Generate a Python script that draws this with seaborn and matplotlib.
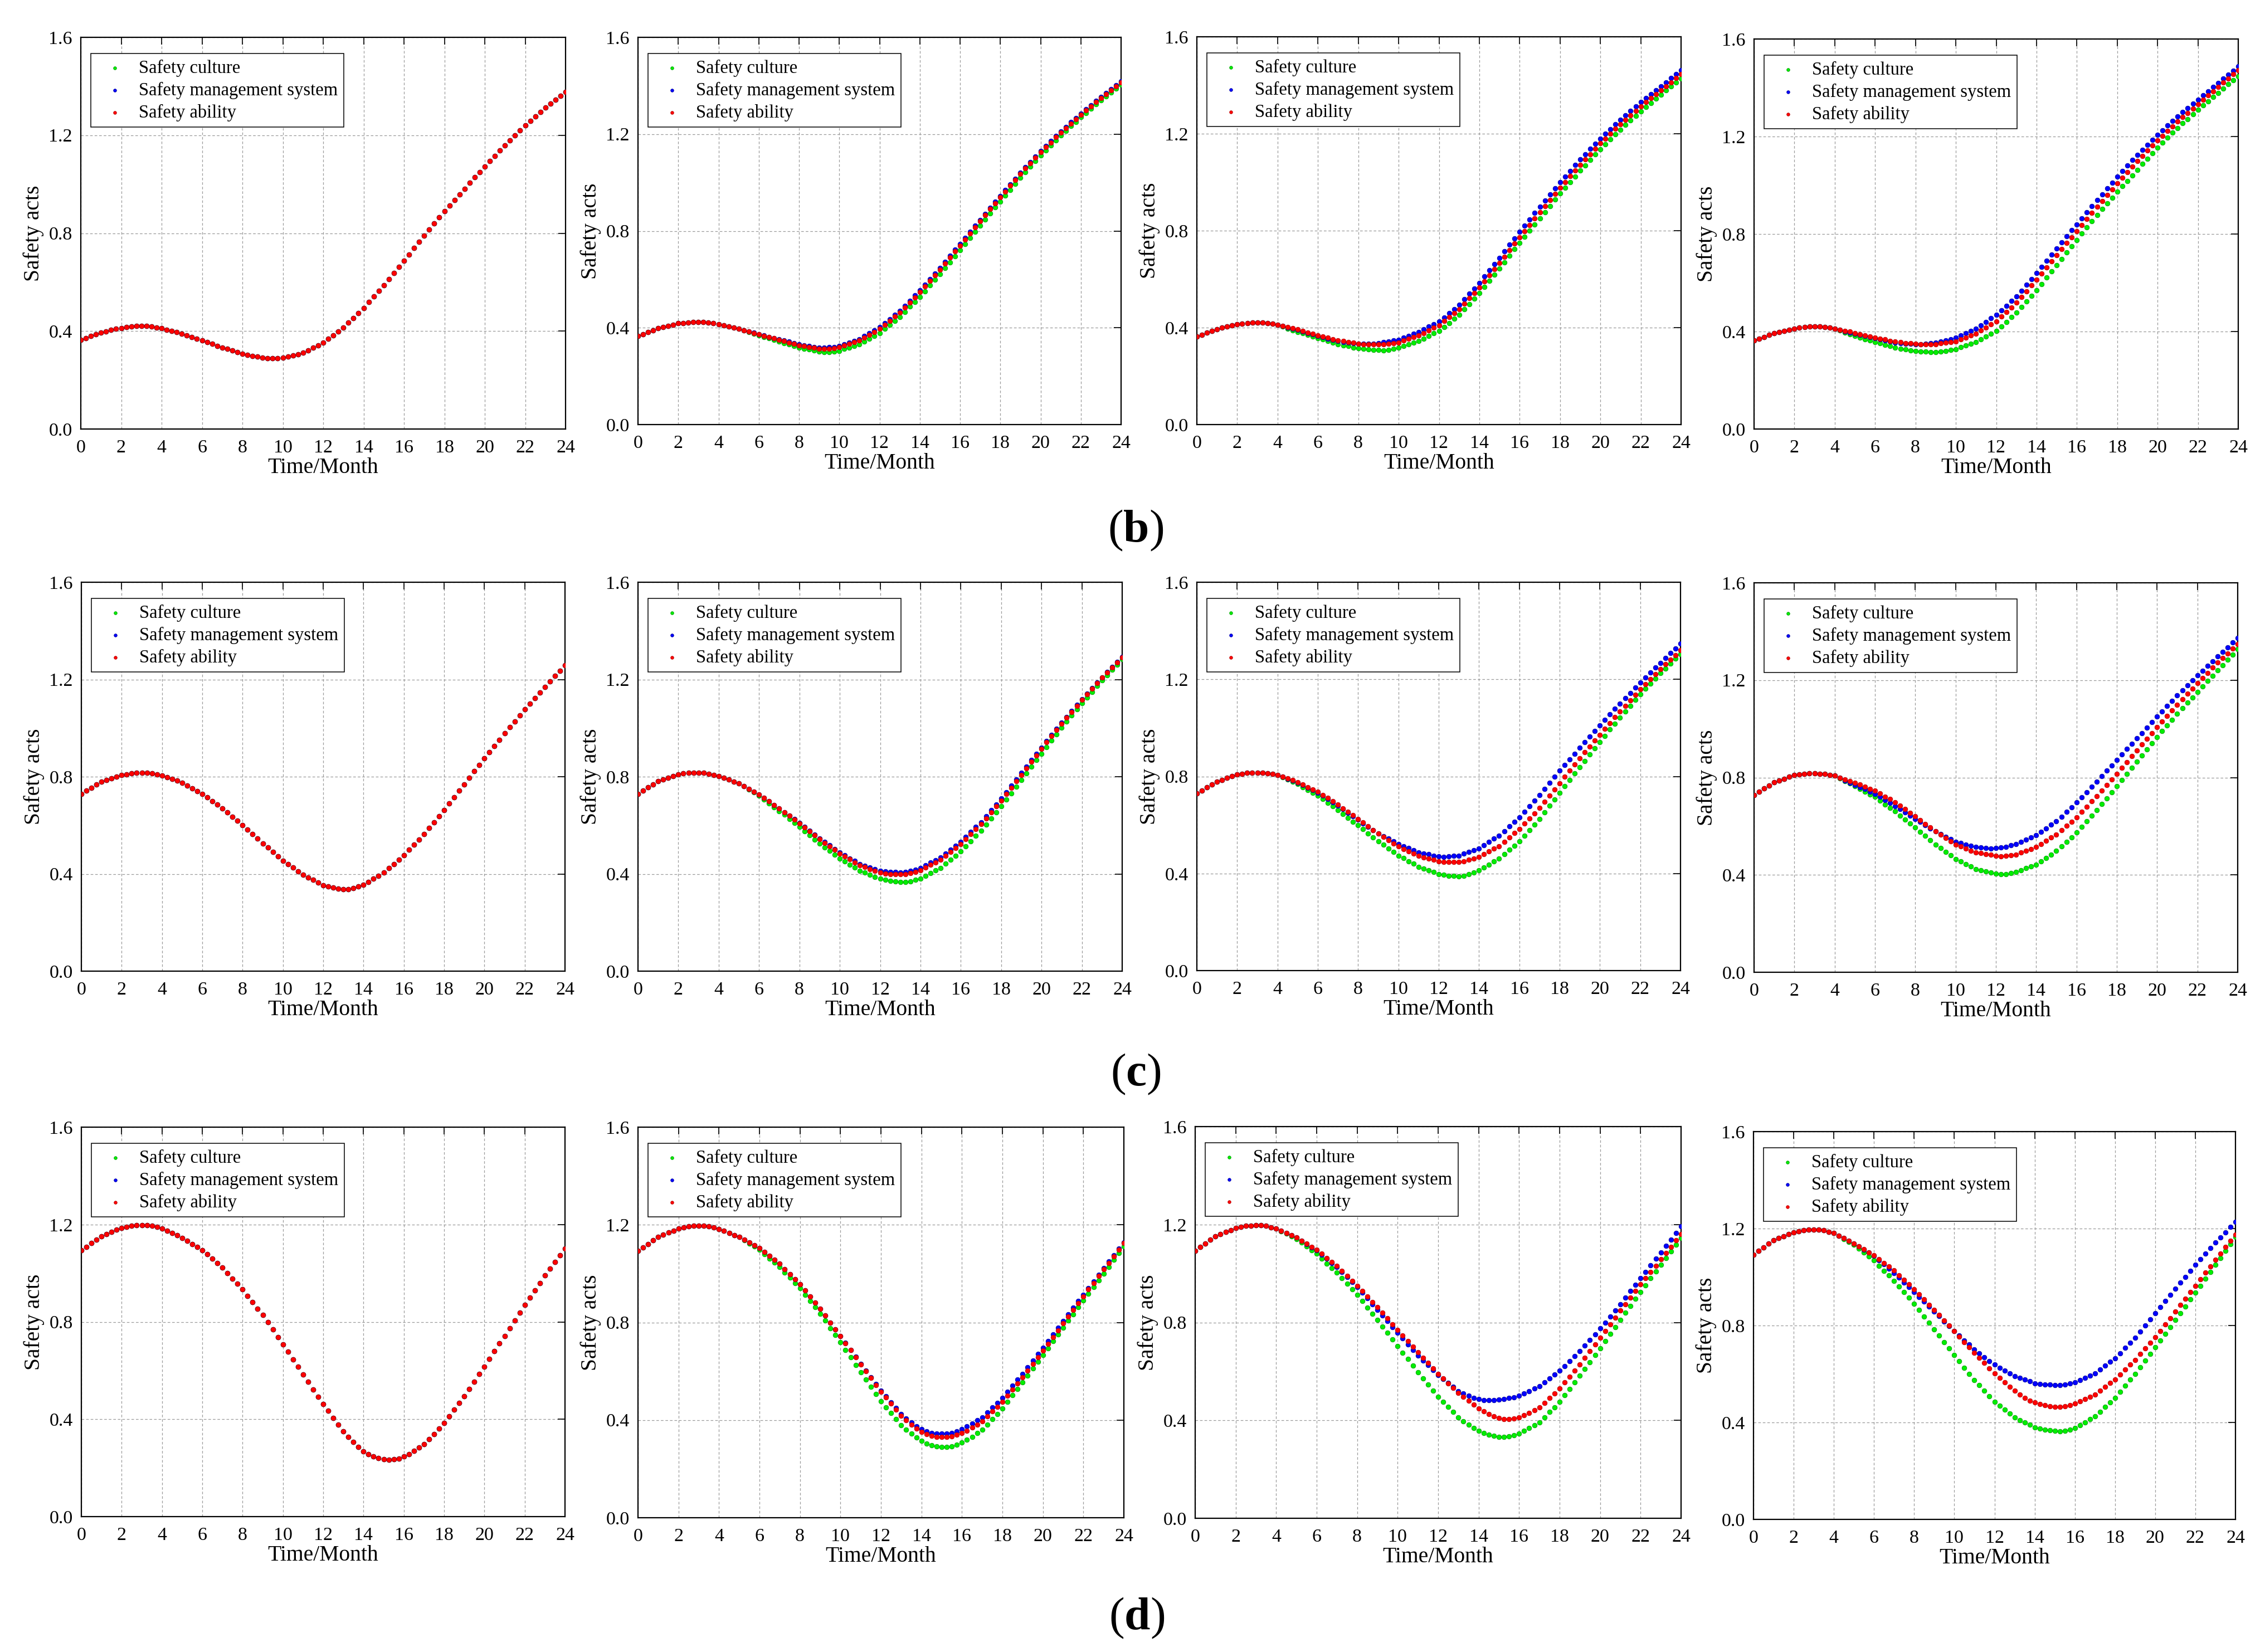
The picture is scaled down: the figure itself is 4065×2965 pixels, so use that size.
import matplotlib
matplotlib.use("Agg")
import matplotlib.pyplot as plt
import seaborn as sns
import pandas as pd

# ---------------- data ----------------
MONTHS = [0, 0.25, 0.5, 0.75, 1, 1.25, 1.5, 1.75, 2, 2.25, 2.5, 2.75, 3, 3.25, 3.5, 3.75,
          4, 4.25, 4.5, 4.75, 5, 5.25, 5.5, 5.75, 6, 6.25, 6.5, 6.75, 7, 7.25, 7.5, 7.75,
          8, 8.25, 8.5, 8.75, 9, 9.25, 9.5, 9.75, 10, 10.25, 10.5, 10.75, 11, 11.25, 11.5, 11.75,
          12, 12.25, 12.5, 12.75, 13, 13.25, 13.5, 13.75, 14, 14.25, 14.5, 14.75, 15, 15.25, 15.5, 15.75,
          16, 16.25, 16.5, 16.75, 17, 17.25, 17.5, 17.75, 18, 18.25, 18.5, 18.75, 19, 19.25, 19.5, 19.75,
          20, 20.25, 20.5, 20.75, 21, 21.25, 21.5, 21.75, 22, 22.25, 22.5, 22.75, 23, 23.25, 23.5, 23.75, 24]

SERIES_NAMES = ["Safety culture", "Safety management system", "Safety ability"]
ROW_LABELS = ["b", "c", "d"]
X_TICKS = [0, 2, 4, 6, 8, 10, 12, 14, 16, 18, 20, 22, 24]
Y_TICKS = [0.0, 0.4, 0.8, 1.2, 1.6]
Y_TICK_LABELS = ["0.0", "0.4", "0.8", "1.2", "1.6"]
X_LABEL = "Time/Month"
Y_LABEL = "Safety acts"

# ---- row (b) ----
B1 = [.365, .372, .380, .387, .394, .399, .404, .409, .413, .416, .418, .420, .420, .420, .418, .415,
      .411, .406, .401, .396, .390, .383, .376, .369, .362, .355, .348, .340, .333, .327, .321, .314,
      .308, .303, .299, .295, .292, .290, .289, .290, .292, .296, .301, .306, .312, .322, .332, .342,
      .352, .368, .383, .399, .414, .434, .454, .474, .494, .518, .541, .565, .588, .613, .638, .663,
      .688, .713, .739, .764, .789, .814, .839, .864, .889, .912, .936, .959, .982, 1.005, 1.028, 1.050,
      1.073, 1.094, 1.116, 1.137, 1.158, 1.179, 1.199, 1.220, 1.240, 1.258, 1.277, 1.295,
      1.313, 1.329, 1.345, 1.361, 1.377]

B2_START = [.365, .373, .382, .390, .398, .403, .408, .413, .418, .420, .422, .423,
            .423, .423, .421, .418, .414, .410, .405, .401, .396]
B2_RED = B2_START + [
    .390, .384, .378, .372, .367, .361, .356, .350, .345, .339, .334, .328, .325, .321, .318, .314,
    .313, .314, .316, .319, .326, .333, .340, .347, .359, .371, .383, .395, .412, .429, .446, .463,
    .484, .505, .526, .547, .570, .593, .617, .640, .665, .690, .715, .740, .765, .790, .815, .840,
    .865, .890, .914, .939, .963, .987, 1.011, 1.035, 1.058, 1.080, 1.103, 1.125, 1.146, 1.166, 1.187, 1.207,
    1.225, 1.244, 1.262, 1.280, 1.298, 1.315, 1.333, 1.350, 1.366, 1.382, 1.398, 1.414]
B2_BLUE = B2_START + [
    .390, .385, .379, .373, .368, .362, .357, .352, .347, .342, .336, .331, .328, .324, .321, .318,
    .318, .319, .321, .325, .332, .339, .346, .353, .365, .378, .390, .402, .419, .436, .453, .470,
    .491, .512, .533, .554, .577, .601, .624, .647, .672, .697, .722, .747, .772, .796, .821, .846,
    .871, .895, .920, .945, .969, .993, 1.016, 1.040, 1.063, 1.085, 1.108, 1.130, 1.151, 1.171, 1.192, 1.212,
    1.230, 1.249, 1.267, 1.285, 1.302, 1.320, 1.337, 1.354, 1.370, 1.386, 1.402, 1.418]
B2_GREEN = B2_START + [
    .389, .382, .375, .368, .362, .356, .349, .343, .337, .331, .324, .318, .314, .310, .306, .302,
    .300, .300, .302, .305, .312, .318, .325, .331, .343, .355, .366, .378, .395, .412, .428, .445,
    .466, .487, .507, .528, .551, .575, .598, .621, .646, .671, .696, .721, .746, .771, .797, .822,
    .847, .872, .897, .922, .946, .970, .995, 1.019, 1.042, 1.065, 1.088, 1.111, 1.132, 1.153, 1.174, 1.195,
    1.214, 1.233, 1.251, 1.270, 1.288, 1.305, 1.323, 1.340, 1.356, 1.372, 1.388, 1.404]

B3_START = [.363, .371, .379, .386, .394, .399, .404, .409, .414, .417, .419, .421,
            .421, .421, .419, .416, .411]
B3_RED = B3_START + [
    .406, .402, .397, .392, .386, .380, .374, .368, .363, .358, .352, .347, .344, .340, .337, .334,
    .332, .331, .330, .330, .331, .333, .336, .339, .346, .353, .360, .367, .378, .389, .399, .410,
    .427, .444, .460, .477, .499, .521, .543, .565, .590, .616, .641, .666, .693, .719, .746, .772,
    .798, .824, .850, .876, .901, .927, .952, .977, 1.001, 1.025, 1.048, 1.072, 1.094, 1.116, 1.138, 1.160,
    1.180, 1.200, 1.220, 1.240, 1.258, 1.277, 1.295, 1.313, 1.330, 1.347, 1.363, 1.380,
    1.396, 1.412, 1.429, 1.445]
B3_BLUE = B3_START + [
    .406, .401, .396, .391, .385, .378, .372, .365, .360, .355, .349, .344, .341, .338, .336, .334,
    .333, .333, .334, .336, .340, .343, .347, .350, .358, .366, .374, .382, .393, .404, .414, .425,
    .442, .460, .477, .494, .517, .540, .562, .585, .611, .637, .662, .688, .715, .742, .768, .795,
    .821, .847, .873, .899, .924, .950, .975, 1.000, 1.024, 1.047, 1.071, 1.094, 1.116, 1.137, 1.159, 1.180,
    1.200, 1.219, 1.239, 1.258, 1.276, 1.294, 1.312, 1.330, 1.347, 1.363, 1.380, 1.396,
    1.412, 1.429, 1.445, 1.461]
B3_GREEN = B3_START + [
    .404, .396, .389, .382, .376, .370, .363, .357, .351, .344, .338, .331, .327, .323, .318, .314,
    .312, .310, .308, .307, .306, .308, .312, .317, .324, .330, .337, .344, .355, .365, .376, .386,
    .403, .419, .436, .452, .475, .497, .520, .542, .568, .593, .619, .644, .670, .696, .723, .749,
    .775, .800, .826, .851, .877, .902, .928, .953, .977, 1.001, 1.024, 1.048, 1.070, 1.092, 1.114, 1.136,
    1.156, 1.176, 1.197, 1.217, 1.236, 1.255, 1.274, 1.293, 1.310, 1.327, 1.345, 1.362,
    1.379, 1.395, 1.412, 1.428]

B4_START = [.364, .371, .378, .386, .393, .398, .403, .407, .412, .415, .418, .420,
            .420, .420, .418, .415, .412]
B4_RED = B4_START + [
    .408, .403, .399, .394, .389, .385, .380, .375, .371, .367, .362, .358, .356, .353, .351, .349,
    .348, .347, .347, .348, .351, .354, .357, .360, .368, .376, .384, .392, .405, .417, .430, .442,
    .461, .480, .499, .518, .542, .565, .589, .612, .637, .663, .688, .713, .738, .763, .787, .812,
    .837, .862, .886, .911, .935, .960, .984, 1.008, 1.031, 1.054, 1.077, 1.100, 1.121, 1.142, 1.163, 1.184,
    1.203, 1.223, 1.242, 1.261, 1.279, 1.297, 1.315, 1.333, 1.351, 1.369, 1.386, 1.404,
    1.421, 1.438, 1.455, 1.472]
B4_BLUE = B4_START + [
    .407, .401, .396, .391, .386, .382, .377, .372, .368, .363, .359, .354, .352, .350, .349, .348,
    .348, .349, .351, .354, .359, .364, .369, .374, .384, .393, .403, .412, .426, .440, .454, .468,
    .487, .506, .525, .544, .568, .592, .616, .640, .665, .691, .716, .741, .766, .791, .815, .840,
    .865, .890, .914, .939, .963, .987, 1.011, 1.035, 1.058, 1.080, 1.103, 1.125, 1.146, 1.166, 1.187, 1.207,
    1.226, 1.245, 1.264, 1.283, 1.300, 1.317, 1.335, 1.352, 1.369, 1.386, 1.403, 1.420,
    1.437, 1.454, 1.470, 1.487]
B4_GREEN = B4_START + [
    .404, .396, .389, .381, .375, .369, .363, .357, .351, .345, .340, .334, .330, .326, .323, .319,
    .318, .317, .316, .316, .318, .321, .325, .328, .335, .342, .349, .356, .368, .379, .391, .402,
    .421, .440, .459, .478, .501, .524, .547, .570, .595, .621, .646, .671, .697, .724, .750, .776,
    .802, .827, .853, .878, .902, .926, .949, .973, .996, 1.018, 1.041, 1.064, 1.087, 1.109, 1.132, 1.155,
    1.175, 1.195, 1.215, 1.235, 1.254, 1.272, 1.291, 1.309, 1.327, 1.344, 1.362, 1.379,
    1.396, 1.414, 1.431, 1.448]

# ---- row (c) ----
C1 = [.730, .742, .755, .767, .779, .786, .793, .800, .807, .810, .813, .815, .816, .816, .813, .810,
      .805, .798, .790, .783, .775, .764, .753, .741, .730, .715, .700, .685, .670, .653, .635, .618,
      .600, .582, .563, .545, .526, .508, .491, .473, .455, .440, .426, .411, .396, .386, .375, .365,
      .354, .348, .343, .339, .337, .338, .342, .348, .355, .367, .380, .392, .405, .423, .441, .459,
      .477, .499, .520, .542, .563, .588, .613, .637, .662, .689, .716, .742, .769, .796, .822, .849,
      .875, .901, .927, .952, .978, 1.003, 1.028, 1.052, 1.077, 1.100, 1.124, 1.147,
      1.170, 1.192, 1.214, 1.236, 1.258]

C2_START = [.730, .743, .756, .768, .781, .788, .795, .803, .810, .813, .815, .816,
            .816, .815, .812, .808, .803, .795, .788, .780, .772]
C2_RED = C2_START + [
    .761, .750, .738, .727, .713, .698, .684, .669, .654, .639, .623, .608, .592, .576, .559,
    .543, .528, .514, .499, .484, .472, .460, .447, .435, .428, .420, .413, .405, .402, .400, .398,
    .398, .400, .404, .409, .415, .426, .437, .447, .458, .474, .490, .506, .522, .543, .564, .584,
    .605, .629, .654, .678, .702, .729, .755, .782, .808, .835, .862, .888, .915, .941, .967, .992,
    1.018, 1.043, 1.067, 1.092, 1.116, 1.139, 1.162, 1.184, 1.207, 1.228, 1.249, 1.270, 1.291]
C2_BLUE = C2_START + [
    .761, .750, .738, .727, .713, .698, .684, .669, .654, .639, .625, .610, .594, .578, .562,
    .546, .532, .517, .503, .488, .476, .464, .453, .441, .434, .427, .419, .412, .410, .408, .407,
    .406, .408, .413, .418, .424, .435, .446, .456, .467, .483, .499, .515, .531, .552, .572, .593,
    .613, .637, .662, .686, .710, .736, .763, .789, .815, .841, .868, .894, .920, .946, .971, .997,
    1.022, 1.046, 1.071, 1.095, 1.119, 1.142, 1.164, 1.187, 1.209, 1.230, 1.251, 1.272, 1.293]
C2_GREEN = C2_START + [
    .760, .747, .735, .722, .706, .690, .675, .659, .643, .626, .610, .593, .576, .559, .542,
    .525, .510, .495, .479, .464, .451, .438, .426, .413, .405, .397, .388, .380, .375, .371, .368,
    .367, .367, .370, .375, .381, .392, .403, .414, .425, .442, .459, .475, .492, .514, .535, .557,
    .578, .603, .628, .653, .678, .705, .732, .759, .786, .813, .841, .868, .895, .922, .948, .975,
    1.001, 1.026, 1.052, 1.077, 1.102, 1.126, 1.149, 1.173, 1.196, 1.218, 1.240, 1.261, 1.283]

C3_START = [.730, .742, .755, .767, .779, .786, .794, .801, .808, .811, .814, .815,
            .816, .816, .813, .810, .806]
C3_RED = C3_START + [
    .799, .791, .784, .776, .766, .756, .747, .737, .724, .711, .697, .684, .669, .655, .640,
    .625, .610, .595, .579, .564, .551, .538, .524, .511, .501, .492, .482, .472, .467, .461, .456,
    .450, .448, .447, .447, .448, .451, .457, .462, .468, .479, .491, .502, .513, .531, .548, .566,
    .583, .605, .627, .648, .670, .696, .721, .747, .772, .798, .823, .849, .874, .899, .923, .948,
    .972, .996, 1.020, 1.044, 1.068, 1.091, 1.114, 1.136, 1.159, 1.180, 1.201, 1.222,
    1.243, 1.262, 1.281, 1.300, 1.319]
C3_BLUE = C3_START + [
    .798, .790, .782, .774, .764, .753, .743, .733, .720, .706, .693, .679, .665, .650, .636,
    .621, .607, .593, .579, .565, .554, .544, .533, .522, .513, .505, .496, .487, .483, .479, .474,
    .470, .469, .470, .472, .474, .481, .489, .496, .503, .516, .530, .543, .556, .575, .594, .613,
    .632, .655, .678, .701, .724, .749, .774, .798, .823, .847, .870, .894, .918, .941, .964, .987,
    1.010, 1.033, 1.055, 1.078, 1.100, 1.122, 1.144, 1.165, 1.187, 1.207, 1.228, 1.248,
    1.268, 1.288, 1.308, 1.327, 1.347]
C3_GREEN = C3_START + [
    .797, .787, .778, .768, .756, .744, .732, .720, .706, .691, .677, .662, .646, .630, .614,
    .598, .582, .565, .549, .532, .518, .503, .489, .474, .463, .451, .440, .428, .421, .413, .406,
    .398, .394, .391, .390, .389, .391, .397, .405, .413, .425, .437, .449, .461, .479, .497, .515,
    .533, .556, .579, .602, .625, .652, .679, .705, .732, .759, .785, .812, .838, .864, .890, .916,
    .942, .967, .993, 1.018, 1.043, 1.067, 1.091, 1.115, 1.139, 1.161, 1.182, 1.204,
    1.225, 1.245, 1.265, 1.285, 1.305]

C4_START = [.729, .742, .755, .767, .780, .788, .795, .803, .810, .813, .815, .817,
            .817, .816, .814, .811, .807]
C4_RED = C4_START + [
    .800, .793, .786, .779, .771, .763, .754, .746, .734, .722, .711, .699, .684, .670, .655,
    .640, .625, .609, .594, .578, .565, .552, .538, .525, .517, .509, .500, .492, .489, .485, .482,
    .478, .477, .478, .481, .484, .492, .499, .507, .514, .527, .540, .553, .566, .584, .602, .619,
    .637, .659, .680, .702, .723, .746, .770, .793, .816, .840, .864, .888, .912, .936, .959, .983,
    1.007, 1.030, 1.053, 1.076, 1.099, 1.121, 1.144, 1.166, 1.188, 1.209, 1.230, 1.251,
    1.272, 1.291, 1.310, 1.329, 1.348]
C4_BLUE = C4_START + [
    .798, .788, .779, .770, .761, .752, .742, .733, .721, .708, .696, .683, .670, .657, .643,
    .630, .617, .604, .591, .578, .568, .557, .547, .536, .531, .525, .520, .514, .512, .510, .509,
    .510, .512, .516, .521, .526, .535, .544, .553, .562, .577, .591, .606, .620, .639, .659, .678,
    .697, .719, .740, .762, .783, .805, .828, .850, .872, .894, .917, .939, .961, .983, 1.006, 1.028,
    1.050, 1.072, 1.094, 1.115, 1.137, 1.158, 1.179, 1.199, 1.220, 1.239, 1.259, 1.278,
    1.297, 1.316, 1.335, 1.354, 1.373]
C4_GREEN = C4_START + [
    .797, .786, .776, .765, .754, .742, .731, .720, .705, .690, .676, .661, .644, .628, .611,
    .594, .577, .560, .542, .525, .510, .495, .480, .465, .455, .444, .434, .423, .419, .414, .410,
    .406, .404, .404, .407, .412, .420, .427, .435, .442, .456, .470, .484, .498, .517, .536, .555,
    .574, .597, .620, .643, .666, .691, .715, .740, .764, .790, .815, .841, .866, .891, .916, .941,
    .966, .990, 1.014, 1.037, 1.061, 1.084, 1.107, 1.129, 1.152, 1.174, 1.196, 1.218,
    1.240, 1.262, 1.284, 1.305, 1.327]

# ---- row (d) ----
D1 = [1.093, 1.108, 1.123, 1.137, 1.152, 1.161, 1.169, 1.178, 1.186, 1.190, 1.194, 1.196,
      1.197, 1.197, 1.194, 1.190, 1.184, 1.175, 1.165, 1.155, 1.145, 1.133, 1.120, 1.108,
      1.095, 1.077, 1.059, 1.041, 1.023, 1.001, .978, .956, .933, .907, .881, .854,
      .828, .798, .768, .738, .708, .677, .646, .615, .584, .554, .523, .493,
      .462, .434, .406, .378, .350, .327, .306, .286, .268, .256, .247, .240,
      .236, .234, .235, .239, .247, .257, .269, .283, .298, .318, .339, .361,
      .384, .411, .439, .466, .494, .525, .555, .586, .616, .648, .679, .711,
      .742, .774, .806, .837, .869, .899, .929, .960, .990, 1.018, 1.046, 1.074, 1.102]

D2_START = [1.093, 1.107, 1.121, 1.136, 1.150, 1.159, 1.168, 1.176, 1.185, 1.189, 1.193, 1.195,
            1.196, 1.196, 1.193, 1.189, 1.183, 1.175, 1.167, 1.158, 1.150]
D2_RED = D2_START + [
    1.139, 1.127, 1.116, 1.104, 1.088, 1.072, 1.056, 1.040, 1.019, .998, .977,
    .956, .931, .906, .881, .856, .828, .800, .772, .744, .715, .686, .657,
    .628, .600, .572, .544, .516, .492, .467, .443, .418, .399, .382, .366,
    .352, .342, .335, .331, .330, .330, .333, .339, .346, .357, .369, .382,
    .395, .415, .435, .455, .475, .500, .525, .550, .575, .602, .630, .657,
    .684, .712, .740, .768, .796, .824, .851, .879, .907, .935, .962, .990,
    1.017, 1.044, 1.071, 1.098, 1.125]
D2_BLUE = D2_START + [
    1.139, 1.127, 1.116, 1.104, 1.088, 1.072, 1.056, 1.040, 1.019, .998, .977,
    .956, .931, .906, .881, .856, .828, .800, .772, .744, .716, .687, .659,
    .630, .603, .575, .548, .521, .497, .473, .449, .425, .407, .390, .375,
    .362, .354, .348, .345, .345, .345, .348, .354, .362, .374, .386, .399,
    .411, .431, .451, .470, .490, .515, .540, .565, .590, .617, .643, .670,
    .696, .723, .751, .778, .805, .832, .860, .887, .914, .941, .968, .995,
    1.022, 1.049, 1.075, 1.102, 1.128]
D2_GREEN = D2_START + [
    1.137, 1.124, 1.111, 1.098, 1.080, 1.062, 1.045, 1.027, 1.005, .983, .962,
    .940, .914, .888, .862, .836, .807, .777, .748, .719, .688, .657, .626,
    .595, .565, .536, .506, .476, .452, .428, .404, .380, .361, .344, .328,
    .314, .303, .296, .292, .290, .290, .293, .299, .307, .319, .332, .346,
    .360, .382, .404, .425, .447, .474, .501, .528, .555, .583, .611, .639,
    .667, .695, .723, .751, .779, .807, .834, .862, .890, .918, .945, .973,
    1.000, 1.028, 1.056, 1.084, 1.112]

D3_START = [1.093, 1.108, 1.122, 1.137, 1.151, 1.160, 1.169, 1.177, 1.186, 1.190, 1.194, 1.196,
            1.197, 1.197, 1.194, 1.189, 1.184]
D3_RED = D3_START + [
    1.175, 1.166, 1.156, 1.147, 1.134, 1.122, 1.109, 1.096, 1.080, 1.063, 1.047,
    1.030, 1.010, .990, .970, .950, .928, .906, .884, .862, .839, .816, .793,
    .770, .747, .724, .701, .678, .656, .634, .612, .590, .571, .551, .532,
    .512, .496, .480, .464, .448, .436, .425, .417, .410, .406, .405, .407,
    .412, .420, .430, .441, .452, .471, .491, .510, .530, .555, .579, .604,
    .628, .655, .683, .710, .737, .765, .793, .820, .848, .875, .902, .928,
    .955, .981, 1.007, 1.032, 1.058, 1.084, 1.109, 1.135, 1.160]
D3_BLUE = D3_START + [
    1.175, 1.165, 1.156, 1.146, 1.133, 1.120, 1.107, 1.094, 1.077, 1.060, 1.043,
    1.026, 1.006, .985, .965, .944, .921, .898, .875, .852, .828, .805, .781,
    .757, .734, .711, .688, .665, .645, .625, .605, .585, .569, .552, .536,
    .520, .509, .500, .492, .486, .483, .482, .482, .484, .487, .491, .495,
    .500, .510, .520, .530, .540, .556, .571, .587, .602, .622, .642, .662,
    .682, .705, .729, .752, .775, .800, .825, .850, .875, .901, .928, .954,
    .980, 1.007, 1.033, 1.060, 1.086, 1.113, 1.139, 1.166, 1.192]
D3_GREEN = D3_START + [
    1.173, 1.162, 1.152, 1.141, 1.126, 1.111, 1.095, 1.080, 1.061, 1.041, 1.022,
    1.003, .980, .958, .935, .912, .887, .861, .836, .811, .784, .757, .731,
    .704, .677, .650, .624, .597, .572, .547, .522, .497, .476, .455, .434,
    .413, .397, .382, .369, .357, .348, .341, .336, .333, .332, .334, .338,
    .345, .357, .368, .380, .392, .413, .434, .454, .475, .502, .529, .555,
    .582, .610, .638, .667, .695, .724, .753, .781, .810, .839, .867, .896,
    .924, .952, .980, 1.008, 1.036, 1.063, 1.091, 1.118, 1.145]

D4_START = [1.092, 1.107, 1.122, 1.137, 1.152, 1.160, 1.168, 1.176, 1.184, 1.188, 1.192, 1.195,
            1.196, 1.195, 1.192, 1.187, 1.181]
D4_RED = D4_START + [
    1.170, 1.160, 1.149, 1.138, 1.126, 1.114, 1.102, 1.090, 1.074, 1.058, 1.043,
    1.027, 1.008, .989, .969, .950, .929, .907, .886, .865, .843, .821, .799,
    .777, .755, .732, .710, .688, .667, .645, .624, .603, .585, .566, .548,
    .530, .515, .501, .490, .482, .476, .471, .467, .465, .464, .466, .471,
    .478, .487, .497, .506, .516, .532, .547, .563, .578, .598, .618, .638,
    .658, .682, .705, .729, .752, .778, .805, .831, .857, .884, .911, .937,
    .964, .991, 1.018, 1.044, 1.071, 1.097, 1.123, 1.149, 1.175]
D4_BLUE = D4_START + [
    1.170, 1.160, 1.149, 1.138, 1.126, 1.113, 1.101, 1.088, 1.070, 1.053, 1.035,
    1.017, .997, .977, .958, .938, .918, .898, .878, .858, .838, .817, .797,
    .777, .758, .739, .721, .702, .686, .670, .654, .638, .626, .614, .602,
    .590, .583, .576, .569, .562, .559, .557, .556, .555, .555, .557, .561,
    .566, .575, .584, .594, .603, .619, .634, .650, .665, .686, .708, .729,
    .750, .775, .800, .825, .850, .876, .901, .927, .952, .977, 1.001, 1.026,
    1.050, 1.073, 1.096, 1.119, 1.142, 1.164, 1.185, 1.207, 1.228]
D4_GREEN = D4_START + [
    1.169, 1.157, 1.145, 1.133, 1.117, 1.101, 1.084, 1.068, 1.047, 1.026, 1.006,
    .985, .961, .938, .914, .890, .864, .837, .811, .785, .758, .731, .705,
    .678, .652, .626, .601, .575, .553, .531, .508, .486, .470, .453, .437,
    .420, .410, .400, .390, .380, .375, .370, .367, .365, .364, .366, .371,
    .377, .389, .401, .413, .425, .444, .464, .483, .502, .527, .551, .576,
    .600, .628, .655, .683, .710, .738, .766, .794, .822, .850, .879, .907,
    .935, .964, .993, 1.021, 1.050, 1.079, 1.107, 1.136, 1.165]

# per panel: (Safety culture, Safety management system, Safety ability)
PANELS = [
    [(B1, B1, B1), (B2_GREEN, B2_BLUE, B2_RED), (B3_GREEN, B3_BLUE, B3_RED), (B4_GREEN, B4_BLUE, B4_RED)],
    [(C1, C1, C1), (C2_GREEN, C2_BLUE, C2_RED), (C3_GREEN, C3_BLUE, C3_RED), (C4_GREEN, C4_BLUE, C4_RED)],
    [(D1, D1, D1), (D2_GREEN, D2_BLUE, D2_RED), (D3_GREEN, D3_BLUE, D3_RED), (D4_GREEN, D4_BLUE, D4_RED)],
]

# ---------------- layout / style ----------------
W, H = 4065, 2965
# axes boxes in pixels: (left, top, right, bottom)
BOXES = [
    [(145, 67, 1015, 770), (1145, 67, 2012, 762), (2148, 66, 3017, 762), (3148, 70, 4017, 770)],
    [(146, 1045, 1014, 1743), (1145, 1045, 2014, 1743), (2148, 1045, 3016, 1742), (3148, 1046, 4016, 1745)],
    [(146, 2023, 1014, 2722), (1145, 2023, 2017, 2724), (2145, 2022, 3017, 2725), (3147, 2031, 4012, 2727)],
]
LABEL_POS = [(2038, 952), (2038, 1928), (2040, 2904)]

FACE = ["#00ee00", "#0000ff", "#ff0000"]
EDGE = ["#009a00", "#00009a", "#b00000"]

sns.set_theme(style="white", rc={
    "text.color": "black", "axes.labelcolor": "black",
    "xtick.color": "black", "ytick.color": "black", "axes.edgecolor": "black",
})
plt.rcParams["font.family"] = ["Liberation Serif", "DejaVu Serif"]
plt.rcParams["mathtext.fontset"] = "custom"
plt.rcParams["mathtext.rm"] = "Liberation Serif"
plt.rcParams["mathtext.bf"] = "Liberation Serif:bold"

fig = plt.figure(figsize=(W / 100, H / 100), dpi=100)
fig.patch.set_facecolor("white")

for r in range(3):
    for c in range(4):
        l, t, rr, b = BOXES[r][c]
        wpx, hpx = rr - l, b - t
        ax = fig.add_axes([l / W, 1 - b / H, wpx / W, hpx / H])
        series = PANELS[r][c]
        for s in series:
            assert len(s) == len(MONTHS)
        frames = []
        for name, vals in zip(SERIES_NAMES, series):
            frames.append(pd.DataFrame({"Month": MONTHS, "Value": vals, "Series": name}))
        df = pd.concat(frames, ignore_index=True)
        handles = []
        for k, name in enumerate(SERIES_NAMES):
            sub = df[df["Series"] == name]
            sns.scatterplot(data=sub, x="Month", y="Value", ax=ax, color=FACE[k],
                            edgecolor=EDGE[k], linewidth=0.6, s=38, zorder=3 + k, legend=False)
            handles.append(ax.collections[-1])

        ax.set_xlim(0, 24)
        ax.set_ylim(0, 1.6)
        ax.set_xticks(X_TICKS)
        ax.set_yticks(Y_TICKS)
        ax.set_yticklabels(Y_TICK_LABELS)
        ax.tick_params(direction="in", length=9.5, width=1.2, top=True, right=True,
                       labelsize=24.5, color="black")
        ax.tick_params(axis="x", pad=13)
        ax.tick_params(axis="y", pad=11)
        ax.grid(True, color="#9a9a9a", linestyle=(0, (3.7, 2.8)), linewidth=0.9)
        ax.set_axisbelow(True)
        for sp in ax.spines.values():
            sp.set_linewidth(1.6)
            sp.set_color("black")
            sp.set_visible(True)
        ax.set_xlabel(X_LABEL, fontsize=28.5, labelpad=2)
        ax.set_ylabel(Y_LABEL, fontsize=28.5, labelpad=6)

        leg = ax.legend(handles, SERIES_NAMES, loc="upper left",
                        bbox_to_anchor=(18 / wpx, 1 - 29 / hpx), borderaxespad=0,
                        fontsize=23.5, frameon=True, fancybox=False, framealpha=1,
                        edgecolor="black", borderpad=0.33, labelspacing=0.27,
                        handlelength=2.0, handletextpad=0.3, markerscale=0.65,
                        scatterpoints=1)
        leg.get_frame().set_linewidth(1.1)
        leg.set_zorder(10)

for lab, (x, y) in zip(ROW_LABELS, LABEL_POS):
    fig.text(x / W, 1 - y / H, "($\\mathbf{" + lab + "}$)", ha="center", va="center",
             fontsize=60)

fig.savefig("out.png", dpi=100, facecolor="white")
